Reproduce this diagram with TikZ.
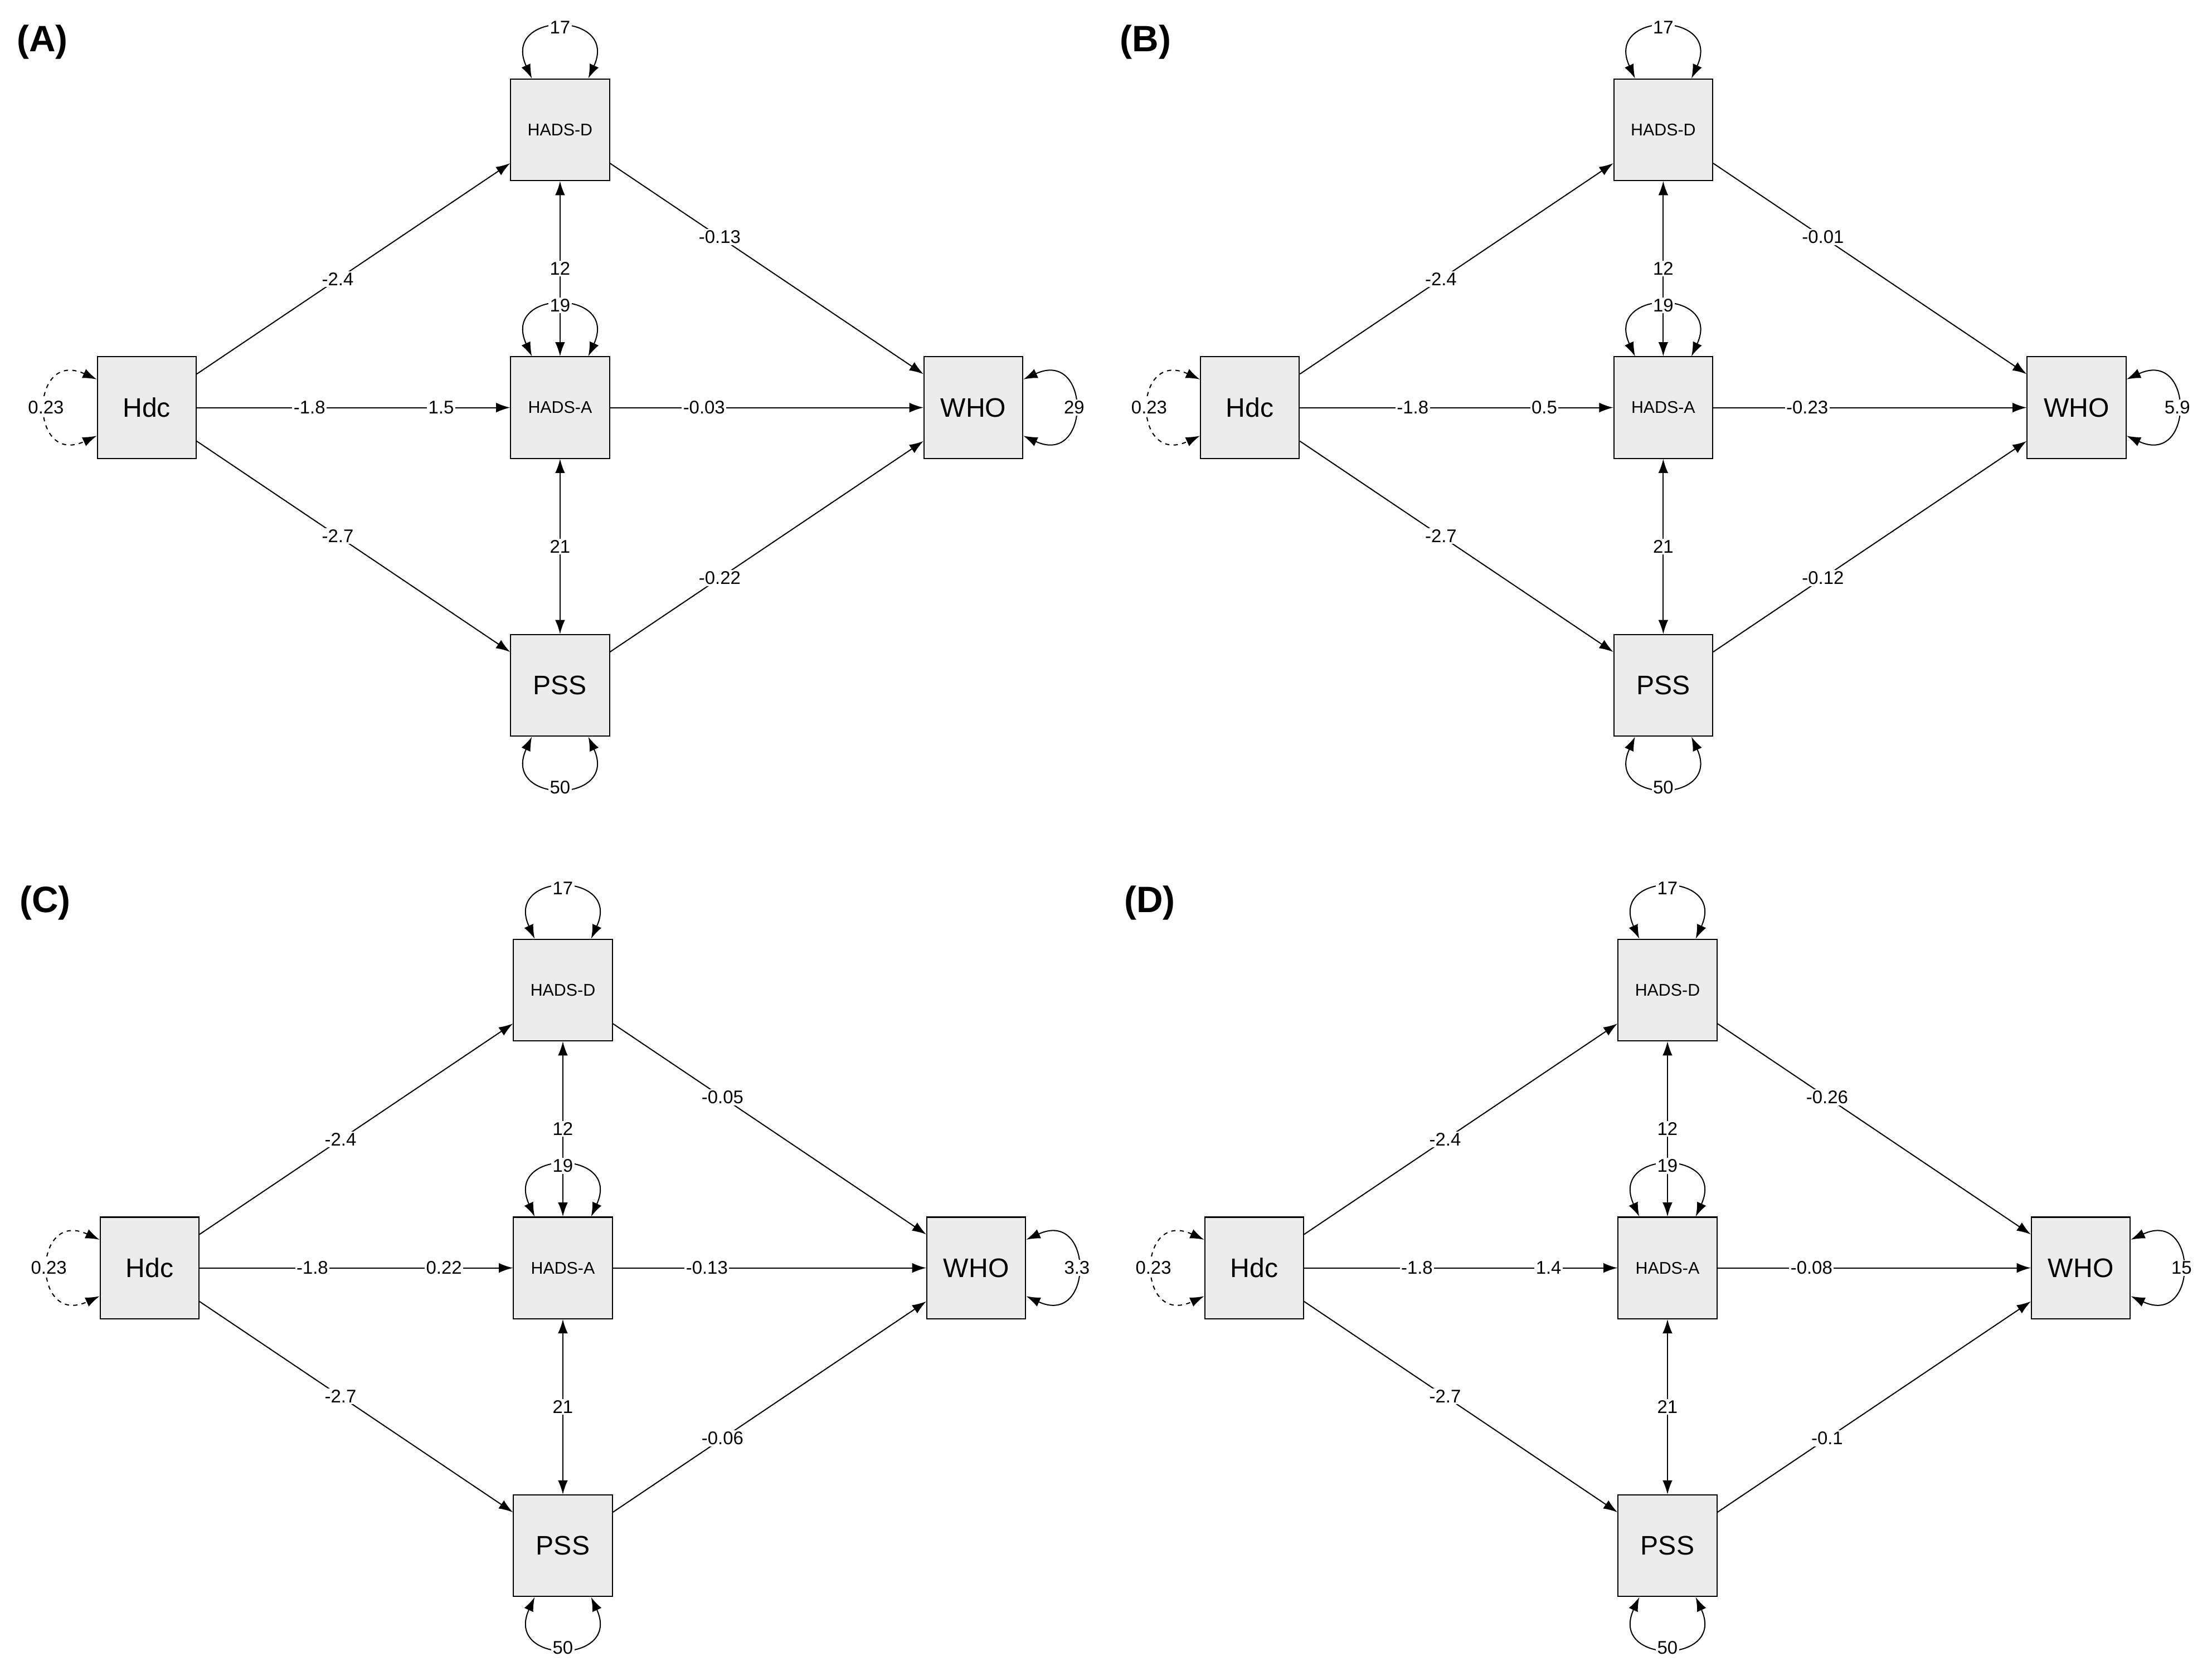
\documentclass[tikz,border=0pt]{standalone}
\usepackage{fontspec}
\setmainfont{Liberation Sans}
\usetikzlibrary{arrows.meta}
\tikzset{
 box/.style={draw=black,fill=gray!15,minimum width=70pt,minimum height=72pt,inner sep=0pt,line width=0.8pt},
 big/.style={font=\fontsize{19}{19}\selectfont},
 sm/.style={font=\fontsize{12}{12}\selectfont},
 lab/.style={fill=white,inner sep=1pt,font=\fontsize{13}{13}\selectfont},
 pl/.style={font=\fontsize{26}{26}\selectfont\bfseries},
 arr/.style={line width=0.8pt,-{Latex[length=10pt,width=7pt]}},
 arr2/.style={line width=0.8pt,{Latex[length=10pt,width=7pt]}-{Latex[length=10pt,width=7pt]}},
}
\newcommand\sempanel[8]{%
\begin{scope}[shift={(#1,#2)}]
\node[pl] (t#3) at (30,30) {(#3)};
\node[box,big] (h#3) at (104,289) {Hdc};
\node[box,sm] (d#3) at (397,92) {HADS-D};
\node[box,sm] (a#3) at (397,289) {HADS-A};
\node[box,big] (p#3) at (397,486) {PSS};
\node[box,big] (w#3) at (690,289) {WHO};
\draw[arr] (h#3) -- node[lab,pos=0.45]{-2.4} (d#3);
\draw[arr] (h#3) -- node[lab,pos=0.36]{-1.8} node[lab,pos=0.78]{#4} (a#3);
\draw[arr] (h#3) -- node[lab,pos=0.45]{-2.7} (p#3);
\draw[arr] (a#3) -- node[lab,pos=0.3]{#5} (w#3);
\draw[arr] (d#3) -- node[lab,pos=0.35]{#6} (w#3);
\draw[arr] (p#3) -- node[lab,pos=0.35]{#7} (w#3);
\draw[arr2] (d#3) -- node[lab,pos=0.5]{12} (a#3);
\draw[arr2] (a#3) -- node[lab,pos=0.5]{21} (p#3);
\draw[arr2] ([xshift=-20pt]d#3.north) .. controls +(-22,-48) and +(22,-48) .. node[lab]{17} ([xshift=20pt]d#3.north);
\draw[arr2] ([xshift=-20pt]a#3.north) .. controls +(-22,-48) and +(22,-48) .. node[lab]{19} ([xshift=20pt]a#3.north);
\draw[arr2] ([xshift=-20pt]p#3.south) .. controls +(-22,48) and +(22,48) .. node[lab]{50} ([xshift=20pt]p#3.south);
\draw[arr2] ([yshift=20pt]w#3.east) .. controls +(48,-22) and +(48,22) .. node[lab]{#8} ([yshift=-20pt]w#3.east);
\draw[arr2,dashed] ([yshift=20pt]h#3.west) .. controls +(-48,-22) and +(-48,22) .. node[lab]{0.23} ([yshift=-20pt]h#3.west);
\end{scope}}
\begin{document}
\begin{tikzpicture}[x=1pt,y=-1pt]
\useasboundingbox[fill=white] (0,0) rectangle (1568,1188);
\sempanel{0}{0}{A}{1.5}{-0.03}{-0.13}{-0.22}{29}
\sempanel{782}{0}{B}{0.5}{-0.23}{-0.01}{-0.12}{5.9}
\sempanel{2}{610}{C}{0.22}{-0.13}{-0.05}{-0.06}{3.3}
\sempanel{785}{610}{D}{1.4}{-0.08}{-0.26}{-0.1}{15}
\end{tikzpicture}
\end{document}
